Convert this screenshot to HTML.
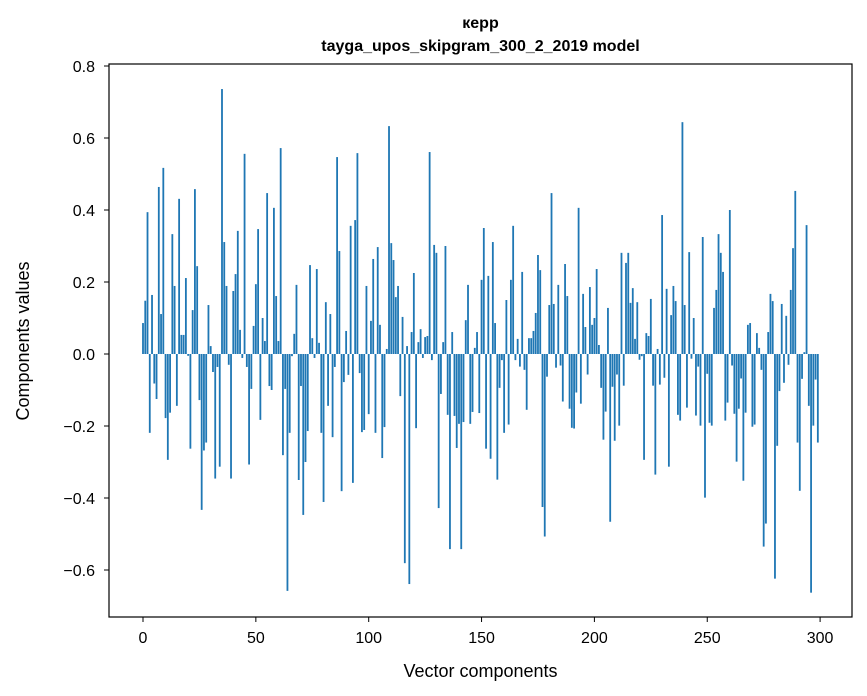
<!DOCTYPE html>
<html><head><meta charset="utf-8"><style>
body{margin:0;background:#fff;}
svg{display:block;font-family:"Liberation Sans","Noto Sans CJK SC",sans-serif;}
</style></head><body>
<svg id="chart" width="867" height="696" viewBox="0 0 867 696" xmlns="http://www.w3.org/2000/svg">
<rect width="867" height="696" fill="#fff"/>
<text x="480.5" y="28" text-anchor="middle" font-size="16" font-weight="bold">керр</text>
<text x="480.5" y="51" text-anchor="middle" font-size="16" font-weight="bold">tayga_upos_skipgram_300_2_2019 model</text>
<g id="bars"></g>
<g id="axes"></g>
<rect x="109" y="64" width="743" height="553" fill="none" stroke="#000" stroke-width="1.2"/>
<text x="480.5" y="677" text-anchor="middle" font-size="18">Vector components</text>
<text transform="translate(29,341) rotate(-90)" text-anchor="middle" font-size="18">Components values</text>
</svg>
<script>
const values = [
0.086,0.148,0.394,-0.219,0.164,-0.082,-0.125,0.464,0.111,0.517,
-0.178,-0.294,-0.163,0.333,0.189,-0.144,0.431,0.053,0.053,0.211,
-0.005,-0.263,0.122,0.458,0.244,-0.128,-0.433,-0.268,-0.246,0.136,
0.022,-0.05,-0.346,-0.036,-0.313,0.736,0.311,0.189,-0.03,-0.346,
0.175,0.222,0.342,0.067,-0.011,0.556,-0.036,-0.307,-0.097,0.078,
0.194,0.347,-0.183,0.1,0.036,0.447,-0.089,-0.1,0.406,0.161,
0.036,0.572,-0.281,-0.097,-0.658,-0.219,-0.006,0.056,0.192,-0.35,
-0.089,-0.447,-0.3,-0.214,0.247,0.044,-0.011,0.236,0.031,-0.219,
-0.411,0.144,-0.144,0.111,-0.231,-0.036,0.547,0.286,-0.381,-0.078,
0.064,-0.058,0.356,-0.358,0.372,0.558,-0.053,-0.217,-0.211,0.189,
-0.167,0.092,0.264,-0.219,0.297,0.081,-0.289,-0.203,0.014,0.633,
0.308,0.261,0.158,0.189,-0.117,0.103,-0.581,0.022,-0.639,0.061,
0.225,-0.206,0.033,0.069,-0.011,0.047,0.05,0.561,-0.017,0.303,
0.281,-0.428,-0.111,0.033,0.3,-0.169,-0.542,0.061,-0.172,-0.261,
-0.194,-0.542,-0.189,0.094,0.192,-0.194,-0.161,0.017,0.061,-0.164,
0.206,0.35,-0.263,0.217,-0.291,0.311,0.086,-0.349,-0.094,-0.017,
-0.219,0.15,-0.196,0.206,0.356,-0.017,0.042,-0.035,0.228,-0.044,
-0.155,0.044,0.044,0.064,0.114,0.275,0.233,-0.425,-0.507,-0.063,
0.136,0.447,0.139,-0.038,0.192,-0.032,-0.132,0.25,0.161,-0.152,
-0.205,-0.207,-0.107,0.406,-0.138,0.167,0.075,-0.057,0.186,0.081,
0.1,0.236,0.025,-0.094,-0.238,-0.16,0.128,-0.466,-0.091,-0.241,
-0.057,-0.199,0.281,-0.088,0.253,0.281,0.142,0.183,0.042,0.144,
-0.016,-0.006,-0.294,0.058,0.05,0.153,-0.088,-0.335,0.014,-0.085,
0.386,-0.066,0.181,-0.313,0.108,0.189,0.147,-0.169,-0.185,0.644,
0.136,-0.149,0.283,-0.013,0.1,-0.171,-0.035,-0.199,0.325,-0.399,
-0.055,-0.191,-0.199,0.128,0.178,0.333,0.281,0.228,-0.185,-0.135,
0.4,-0.032,-0.166,-0.299,-0.152,-0.068,-0.352,-0.163,0.081,0.086,
-0.202,-0.196,0.058,0.017,-0.044,-0.535,-0.471,0.061,0.167,0.147,
-0.624,-0.255,-0.103,0.139,-0.08,0.106,-0.03,0.178,0.294,0.453,
-0.246,-0.38,-0.069,0.005,0.358,-0.144,-0.663,-0.199,-0.071,-0.246
];
const xTicks = [0,50,100,150,200,250,300];
const yTicks = [0.8,0.6,0.4,0.2,0.0,-0.2,-0.4,-0.6];
const yTickLabels = ["0.8","0.6","0.4","0.2","0.0","\u22120.2","\u22120.4","\u22120.6"];

const NS = "http://www.w3.org/2000/svg";
const xScale = i => 143 + 2.257 * i;
const yScale = v => 354 - 360 * v;
const barW = 0.8 * 2.257;

const barsG = document.getElementById('bars');
values.forEach((v, i) => {
  const r = document.createElementNS(NS, 'rect');
  const y0 = yScale(0), y1 = yScale(v);
  r.setAttribute('x', xScale(i) - barW / 2);
  r.setAttribute('y', Math.min(y0, y1));
  r.setAttribute('width', barW);
  r.setAttribute('height', Math.max(Math.abs(y1 - y0), 0.3));
  r.setAttribute('fill', '#1f77b4');
  
  
  barsG.appendChild(r);
});

const axesG = document.getElementById('axes');
xTicks.forEach(t => {
  const x = xScale(t);
  const l = document.createElementNS(NS, 'line');
  l.setAttribute('x1', x); l.setAttribute('x2', x);
  l.setAttribute('y1', 617); l.setAttribute('y2', 622);
  l.setAttribute('stroke', '#000'); l.setAttribute('stroke-width', '1');
  
  
  axesG.appendChild(l);
  const tx = document.createElementNS(NS, 'text');
  tx.setAttribute('x', x); tx.setAttribute('y', 643);
  tx.setAttribute('text-anchor', 'middle'); tx.setAttribute('font-size', '16');
  tx.textContent = t;
  
  
  axesG.appendChild(tx);
});
yTicks.forEach((t, k) => {
  const y = yScale(t);
  const l = document.createElementNS(NS, 'line');
  l.setAttribute('x1', 104); l.setAttribute('x2', 109);
  l.setAttribute('y1', y); l.setAttribute('y2', y);
  l.setAttribute('stroke', '#000'); l.setAttribute('stroke-width', '1');
  
  
  axesG.appendChild(l);
  const tx = document.createElementNS(NS, 'text');
  tx.setAttribute('x', 95); tx.setAttribute('y', y + 6);
  tx.setAttribute('text-anchor', 'end'); tx.setAttribute('font-size', '16');
  tx.textContent = yTickLabels[k];
  
  
  axesG.appendChild(tx);
});
</script>
</body></html>
